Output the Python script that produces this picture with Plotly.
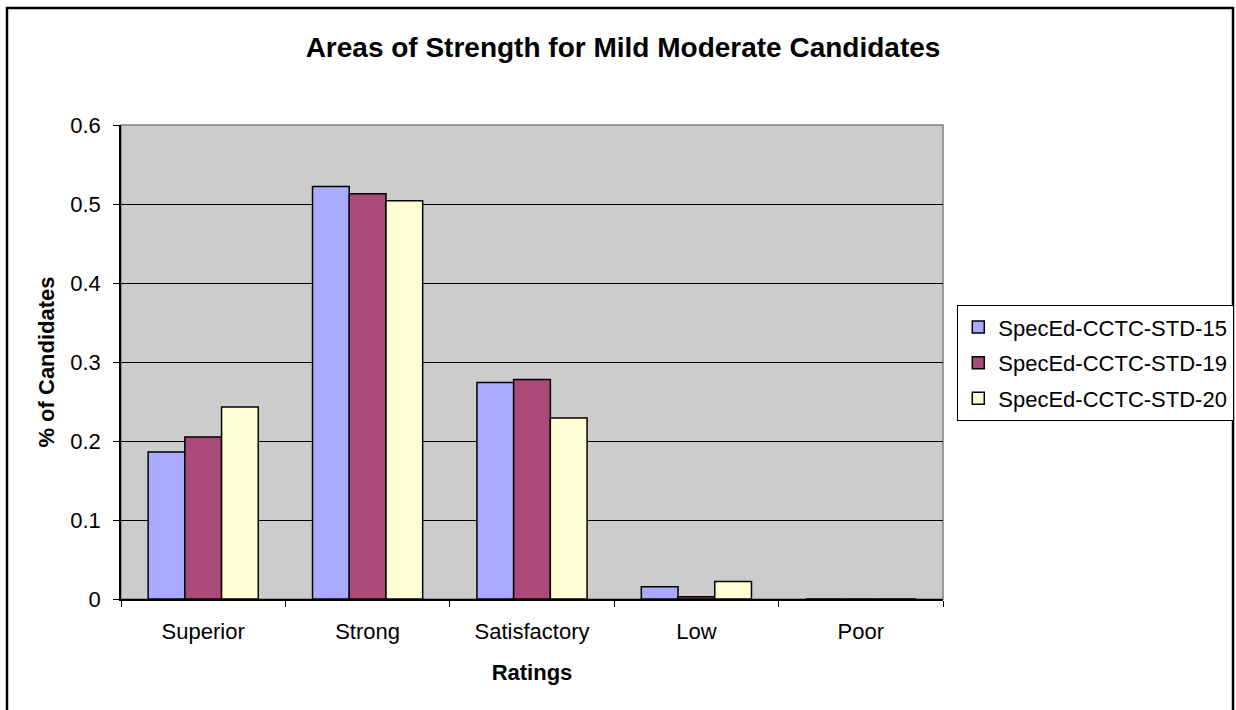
import plotly.graph_objects as go

# Rating categories and share of candidates per standard
ratings = ["Superior", "Strong", "Satisfactory", "Low", "Poor"]
std_15 = [0.186, 0.522, 0.274, 0.0155, 0.0]
std_19 = [0.205, 0.513, 0.278, 0.003, 0.0]
std_20 = [0.243, 0.504, 0.229, 0.022, 0.0]
series_names = ["SpecEd-CCTC-STD-15", "SpecEd-CCTC-STD-19", "SpecEd-CCTC-STD-20"]
series_colors = ["#aaaaff", "#a94a78", "#ffffd5"]
y_ticks = [0, 0.1, 0.2, 0.3, 0.4, 0.5, 0.6]

W, H = 1236, 710
L, R, T, B = 121, 943, 125, 599  # plot area in pixels

fig = go.Figure()
for name, vals, col in zip(series_names, [std_15, std_19, std_20], series_colors):
    fig.add_trace(go.Bar(
        x=ratings, y=vals, name=name, legendgroup=name,
        marker=dict(color=col, line=dict(color="#000000", width=1.5)),
    ))

font = "Arial, Liberation Sans, sans-serif"

def px_to_paper_x(px):
    return (px - L) / (R - L)

def px_to_paper_y(py):
    return (B - py) / (B - T)

fig.update_layout(
    width=W, height=H,
    margin=dict(l=L, r=W - R, t=T, b=H - B, pad=0, autoexpand=False),
    paper_bgcolor="#ffffff",
    plot_bgcolor="#cccccc",
    barmode="group",
    bargap=0.33,
    bargroupgap=0,
    font=dict(family=font, color="#000000", size=22),
    title=dict(
        text="<b>Areas of Strength for Mild Moderate Candidates</b>",
        x=623 / W, xref="container", xanchor="center",
        y=1 - 47 / H, yref="container", yanchor="middle",
        font=dict(size=28, family=font, color="#000000"),
    ),
    xaxis=dict(
        type="category",
        tickson="boundaries",
        ticks="outside", ticklen=6, tickwidth=1, tickcolor="#000000",
        showline=True, linecolor="#000000", linewidth=1.5,
        showgrid=False,
        tickfont=dict(size=22),
        ticklabelstandoff=12,
        title=dict(text="<b>Ratings</b>", font=dict(size=22), standoff=21),
    ),
    yaxis=dict(
        range=[0, 0.6],
        tickvals=y_ticks,
        ticktext=[f"{v:g}" for v in y_ticks],
        ticks="outside", ticklen=6, tickwidth=1, tickcolor="#000000",
        showline=True, linecolor="#000000", linewidth=1.5,
        showgrid=True, gridcolor="#000000", gridwidth=1.2,
        zeroline=False,
        tickfont=dict(size=22),
        ticklabelstandoff=8,
        title=dict(text="<b>% of Candidates</b>", font=dict(size=22), standoff=10),
    ),
    legend=dict(
        x=px_to_paper_x(957), xanchor="left",
        y=px_to_paper_y(305), yanchor="top",
        bgcolor="#ffffff",
        bordercolor="#000000", borderwidth=1.3,
        font=dict(size=22),
        tracegroupgap=4,
        itemwidth=30,
    ),
    shapes=[
        # outer chart frame
        dict(type="rect", xref="paper", yref="paper",
             x0=px_to_paper_x(7), x1=px_to_paper_x(1233),
             y0=px_to_paper_y(730), y1=px_to_paper_y(8),
             line=dict(color="#000000", width=2.5), layer="below"),
        # plot area border
        dict(type="rect", xref="paper", yref="paper",
             x0=0, x1=1, y0=0, y1=1,
             line=dict(color="#808080", width=1.5), layer="below"),
    ],
)

fig.write_html("out.html")
